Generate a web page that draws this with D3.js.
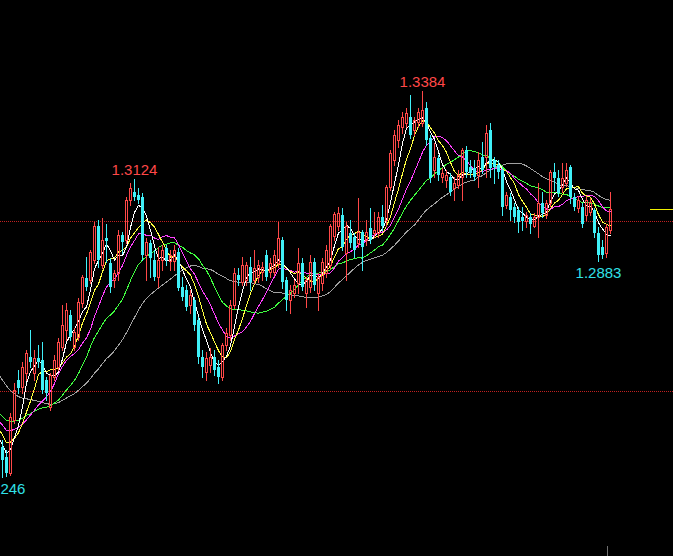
<!DOCTYPE html>
<html><head><meta charset="utf-8">
<script src="https://cdn.jsdelivr.net/npm/d3@7"></script>
<style>html,body{margin:0;padding:0;background:#000;overflow:hidden}svg{display:block}</style>
</head><body><svg id="c" width="673" height="556"></svg>
<script>
// closes before the visible window (only used to warm up the moving averages)
const priorCloses = [1.2860,1.2850,1.2880,1.2830,1.2790,1.2720,1.2680,1.2650,1.2700,1.2660,1.2610,1.2640,1.2580,1.2560,1.2510,1.2470,1.2500,1.2440,1.2460,1.2420,1.2480,1.2440,1.2470,1.2420,1.2460,1.2430,1.2440,1.2450,1.2400,1.2410,1.2380,1.2360,1.2330,1.2330];

const open = [1.2333,1.2304,1.2257,1.2413,1.2531,1.2510,1.2552,1.2599,1.2552,1.2596,
1.2590,1.2531,1.2451,1.2540,1.2569,1.2629,1.2679,1.2723,1.2629,1.2658,
1.2758,1.2832,1.2826,1.2885,1.2985,1.2870,1.2950,1.2876,1.2826,1.2847,
1.2959,1.2944,1.3062,1.3086,1.3077,1.3071,1.2900,1.2935,1.2885,1.2835,
1.2885,1.2921,1.2882,1.2882,1.2909,1.2806,1.2797,1.2753,1.2767,1.2708,
1.2599,1.2555,1.2575,1.2599,1.2569,1.2540,1.2634,1.2664,1.2753,1.2841,
1.2820,1.2826,1.2865,1.2826,1.2835,1.2850,1.2900,1.2850,1.2850,1.2876,
1.2944,1.2826,1.2767,1.2788,1.2817,1.2876,1.2788,1.2806,1.2879,1.2788,
1.2817,1.2847,1.2870,1.2955,1.2985,1.3018,1.2906,1.2965,1.2953,1.2935,
1.2968,1.2944,1.2980,1.2965,1.2965,1.3012,1.3003,1.3101,1.3180,1.3239,
1.3278,1.3289,1.3307,1.3269,1.3292,1.3289,1.3333,1.3245,1.3151,1.3186,
1.3130,1.3121,1.3130,1.3098,1.3106,1.3130,1.3210,1.3159,1.3156,1.3136,
1.3189,1.3189,1.3269,1.3180,1.3165,1.3151,1.3047,1.3071,1.3042,1.3033,
1.3012,1.3000,1.3012,1.2985,1.3012,1.3053,1.3018,1.3053,1.3145,1.3127,
1.3101,1.3112,1.3159,1.3071,1.3039,1.3042,1.3018,1.3027,1.3033,1.2965,
1.2923,1.2906,1.2974];
const high = [1.2354,1.2325,1.2434,1.2522,1.2561,1.2584,1.2620,1.2679,1.2620,1.2634,
1.2643,1.2540,1.2552,1.2605,1.2655,1.2753,1.2759,1.2738,1.2685,1.2773,
1.2841,1.2894,1.2915,1.2997,1.3003,1.3009,1.2991,1.2891,1.2856,1.2974,
1.2968,1.3071,1.3112,1.3124,1.3098,1.3083,1.2950,1.2944,1.2915,1.2923,
1.2929,1.2929,1.2915,1.2929,1.2921,1.2835,1.2811,1.2797,1.2776,1.2717,
1.2620,1.2614,1.2626,1.2620,1.2590,1.2640,1.2685,1.2767,1.2862,1.2862,
1.2894,1.2879,1.2894,1.2915,1.2885,1.2879,1.2915,1.2891,1.2915,1.2997,
1.2953,1.2835,1.2811,1.2826,1.2921,1.2891,1.2835,1.2900,1.2891,1.2847,
1.2891,1.2929,1.2991,1.3027,1.3042,1.3039,1.2997,1.3003,1.2965,1.3068,
1.2974,1.3003,1.3039,1.3027,1.3027,1.3047,1.3106,1.3210,1.3269,1.3298,
1.3322,1.3333,1.3372,1.3307,1.3333,1.3384,1.3351,1.3254,1.3230,1.3195,
1.3156,1.3151,1.3142,1.3130,1.3151,1.3216,1.3221,1.3180,1.3180,1.3204,
1.3233,1.3283,1.3289,1.3189,1.3180,1.3156,1.3086,1.3083,1.3053,1.3042,
1.3042,1.3027,1.3024,1.3024,1.3112,1.3086,1.3062,1.3151,1.3171,1.3151,
1.3171,1.3171,1.3165,1.3083,1.3074,1.3053,1.3074,1.3068,1.3039,1.2982,
1.2944,1.2991,1.3086];
const low = [1.2246,1.2248,1.2250,1.2404,1.2493,1.2493,1.2531,1.2569,1.2531,1.2569,
1.2493,1.2472,1.2443,1.2531,1.2561,1.2620,1.2649,1.2649,1.2620,1.2649,
1.2747,1.2797,1.2817,1.2876,1.2865,1.2862,1.2879,1.2791,1.2806,1.2826,
1.2906,1.2935,1.3047,1.3062,1.3053,1.2885,1.2826,1.2835,1.2826,1.2806,
1.2856,1.2871,1.2856,1.2856,1.2797,1.2767,1.2738,1.2729,1.2679,1.2581,
1.2540,1.2531,1.2555,1.2546,1.2522,1.2531,1.2620,1.2649,1.2744,1.2811,
1.2811,1.2811,1.2797,1.2817,1.2820,1.2826,1.2826,1.2835,1.2841,1.2865,
1.2803,1.2738,1.2729,1.2776,1.2788,1.2797,1.2747,1.2791,1.2797,1.2738,
1.2797,1.2835,1.2862,1.2944,1.2974,1.2915,1.2826,1.2923,1.2894,1.2923,
1.2856,1.2929,1.2935,1.2953,1.2953,1.2974,1.2985,1.3092,1.3165,1.3218,
1.3260,1.3278,1.3245,1.3254,1.3278,1.3280,1.3224,1.3115,1.3130,1.3121,
1.3115,1.3101,1.3077,1.3062,1.3098,1.3062,1.3130,1.3130,1.3121,1.3101,
1.3142,1.3130,1.3130,1.3112,1.3127,1.3018,1.3039,1.3003,1.2997,1.2968,
1.2974,1.2982,1.2965,1.2982,1.2953,1.3012,1.3009,1.3044,1.3092,1.3074,
1.3086,1.3104,1.3053,1.3033,1.3027,1.2982,1.3003,1.3018,1.2953,1.2883,
1.2891,1.2894,1.2965];
const close = [1.2295,1.2257,1.2422,1.2502,1.2507,1.2569,1.2611,1.2584,1.2596,1.2584,
1.2502,1.2493,1.2546,1.2590,1.2643,1.2694,1.2738,1.2658,1.2673,1.2761,
1.2835,1.2806,1.2909,1.2985,1.2885,1.2944,1.2941,1.2806,1.2847,1.2959,
1.2938,1.3062,1.3098,1.3071,1.3062,1.2900,1.2938,1.2891,1.2835,1.2885,
1.2915,1.2885,1.2900,1.2915,1.2803,1.2776,1.2747,1.2782,1.2694,1.2599,
1.2569,1.2596,1.2599,1.2561,1.2540,1.2634,1.2670,1.2753,1.2847,1.2826,
1.2870,1.2870,1.2820,1.2862,1.2870,1.2865,1.2835,1.2876,1.2900,1.2950,
1.2820,1.2767,1.2797,1.2811,1.2876,1.2806,1.2826,1.2879,1.2811,1.2835,
1.2879,1.2915,1.2985,1.3021,1.3024,1.2923,1.2985,1.2935,1.2915,1.2968,
1.2923,1.2968,1.2944,1.2974,1.3012,1.2985,1.3101,1.3201,1.3254,1.3283,
1.3307,1.3319,1.3254,1.3298,1.3322,1.3328,1.3239,1.3127,1.3189,1.3136,
1.3142,1.3136,1.3086,1.3112,1.3136,1.3210,1.3145,1.3142,1.3130,1.3180,
1.3151,1.3260,1.3156,1.3159,1.3145,1.3042,1.3077,1.3033,1.3012,1.2997,
1.3000,1.3018,1.2991,1.3012,1.3053,1.3024,1.3053,1.3145,1.3127,1.3083,
1.3127,1.3151,1.3071,1.3042,1.3062,1.2991,1.3062,1.3056,1.2965,1.2900,
1.2900,1.2982,1.3036];

const maPeriods = [34, 21, 13, 8, 5];
const maColors = ["#a0a0a0", "#40ff40", "#ff40ff", "#ffff40", "#ffffff"];
const gridLevels = [1.30, 1.25];

const W = 673, H = 556;
const upColor = "#ff4848", downColor = "#40f0f8";
const svg = d3.select("#c");
svg.append("rect").attr("width", W).attr("height", H).attr("fill", "#000");

const n = close.length;
const x = d3.scaleLinear().domain([0, n - 1]).range([2.5, 2.5 + 4 * (n - 1)]);
const y = d3.scaleLinear().domain([1.25, 1.30]).range([390.5, 221]);

// dotted price grid lines
svg.append("g").attr("shape-rendering", "crispEdges").selectAll("line").data(gridLevels).join("line")
  .attr("x1", 0).attr("x2", W)
  .attr("y1", d => Math.round(y(d)) + 0.5).attr("y2", d => Math.round(y(d)) + 0.5)
  .attr("stroke", "#c02020").attr("stroke-width", 1).attr("stroke-dasharray", "1,1");

// moving averages
const allCloses = priorCloses.concat(close);
const P = priorCloses.length;
maPeriods.forEach((per, k) => {
  const pts = [];
  for (let i = -1; i < n; i++) {
    const end = i + P;
    const start = end - per + 1;
    if (start < 0) continue;
    pts.push([i, d3.mean(allCloses.slice(start, end + 1))]);
  }
  svg.append("path").datum(pts)
    .attr("d", d3.line().x(d => x(d[0])).y(d => y(d[1])))
    .attr("fill", "none").attr("stroke", maColors[k]).attr("stroke-width", 1)
    .attr("shape-rendering", "crispEdges");
});

// candles
const idx = d3.range(n);
const g = svg.append("g").attr("shape-rendering", "crispEdges");
idx.forEach(i => {
  const o = open[i], c = close[i], h = high[i], l = low[i];
  const up = c >= o;
  const cx = x(i);
  const top = Math.round(y(Math.max(o, c)));
  const bot = Math.round(y(Math.min(o, c)));
  const yh = Math.round(y(h)), yl = Math.round(y(l));
  if (up) {
    g.append("line").attr("x1", cx).attr("x2", cx).attr("y1", yh).attr("y2", top)
      .attr("stroke", upColor);
    g.append("line").attr("x1", cx).attr("x2", cx).attr("y1", Math.max(bot, top + 1)).attr("y2", yl + 1)
      .attr("stroke", upColor);
    g.append("rect").attr("x", cx - 1).attr("y", top + 0.5)
      .attr("width", 2).attr("height", Math.max(0, bot - top))
      .attr("fill", "none").attr("stroke", upColor);
  } else {
    g.append("line").attr("x1", cx).attr("x2", cx).attr("y1", yh).attr("y2", yl + 1)
      .attr("stroke", downColor);
    g.append("rect").attr("x", cx - 1.5).attr("y", top)
      .attr("width", 3).attr("height", Math.max(1, bot - top))
      .attr("fill", downColor);
  }
});

// extreme labels
const hiAll = d3.maxIndex(high);
const loAll = d3.minIndex(low);
const hiLeft = d3.maxIndex(high.slice(0, 80));
const loRight = 110 + d3.minIndex(low.slice(110));
const fmt = d3.format(".4f");
const labels = [
  {i: hiAll, v: high[hiAll], dy: -4, col: "#ff4848"},
  {i: hiLeft, v: high[hiLeft], dy: -4, col: "#ff4848"},
  {i: loAll, v: low[loAll], dy: 17, col: "#30e0e8"},
  {i: loRight, v: low[loRight], dy: 17, col: "#30e0e8"}
];
svg.append("g").selectAll("text").data(labels).join("text")
  .attr("x", d => x(d.i)).attr("y", d => y(d.v) + d.dy)
  .attr("text-anchor", "middle")
  .attr("font-family", "Liberation Sans, Arial, sans-serif").attr("font-size", 15)
  .attr("fill", d => d.col).text(d => fmt(d.v));

// last price marker on the right
const lastY = Math.round(y(close[n - 1])) + 0.5;
svg.append("line").attr("x1", 650).attr("x2", W).attr("y1", lastY).attr("y2", lastY)
  .attr("stroke", "#f0f000").attr("stroke-width", 1).attr("shape-rendering", "crispEdges");
// small cursor tick at the bottom
svg.append("line").attr("x1", x(n - 1) - 3).attr("x2", x(n - 1) - 3).attr("y1", 546).attr("y2", H)
  .attr("stroke", "#707070").attr("stroke-width", 1).attr("shape-rendering", "crispEdges");
</script></body></html>
